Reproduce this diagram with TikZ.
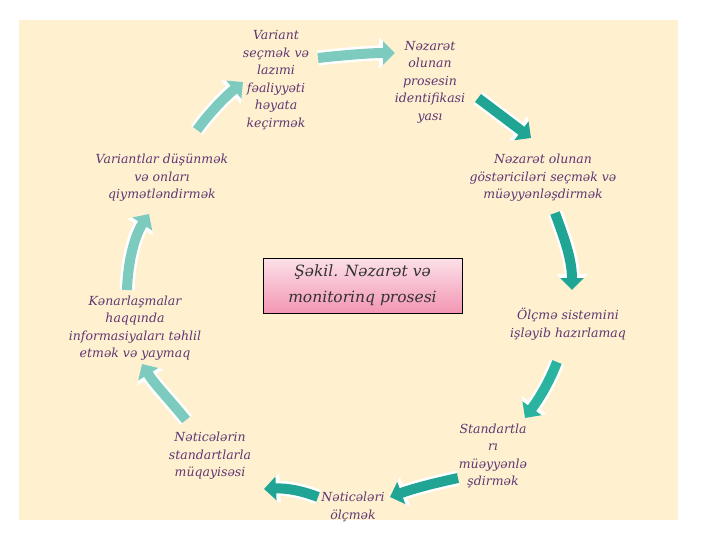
\documentclass[tikz,border=0pt]{standalone}
\usepackage{fontspec}
\setmainfont{DejaVu Serif}
\usetikzlibrary{arrows.meta}
\definecolor{bg}{RGB}{255,240,207}
\definecolor{txt}{RGB}{95,55,115}
\definecolor{tealD}{RGB}{32,165,148}
\definecolor{tealM}{RGB}{42,180,160}
\definecolor{tealL}{RGB}{125,203,190}
\definecolor{pinkT}{RGB}{252,225,233}
\definecolor{pinkB}{RGB}{243,150,180}
\tikzset{
  lbl/.style={text=txt, font=\fontsize{12.5}{17.5}\selectfont\itshape, align=center, inner sep=0pt},
  arrowout/.style={white, line width=15pt, -{Triangle[length=16pt,width=30pt]}},
  arrowin/.style={line width=10pt, -{Triangle[length=12pt,width=23pt]}},
}
\newcommand{\blockarrow}[2]{%
  \draw[arrowout] #2;
  \draw[arrowin,#1] #2;
}
\begin{document}
\begin{tikzpicture}[x=1pt,y=-1pt]
\useasboundingbox (0,0) rectangle (720,540);
\fill[bg] (19,20) rectangle (678,520);

% nodes
\node[lbl] (n1) at (276,80) {Variant\\seçmək və\\lazımi\\fəaliyyəti\\həyata\\keçirmək};
\node[lbl] (n2) at (430,82) {Nəzarət\\olunan\\prosesin\\identifikasi\\yası};
\node[lbl] (n3) at (543,178) {Nəzarət olunan\\göstəriciləri seçmək və\\müəyyənləşdirmək};
\node[lbl] (n4) at (568,324) {Ölçmə sistemini\\işləyib hazırlamaq};
\node[lbl] (n5) at (493,456) {Standartla\\rı\\müəyyənlə\\şdirmək};
\node[lbl] (n6) at (353,507) {Nəticələri\\ölçmək};
\node[lbl] (n7) at (210,456) {Nəticələrin\\standartlarla\\müqayisəsi};
\node[lbl] (n8) at (135,328) {Kənarlaşmalar\\haqqında\\informasiyaları təhlil\\etmək və yaymaq};
\node[lbl] (n9) at (162,178) {Variantlar düşünmək\\və onları\\qiymətləndirmək};

\node[draw=black, line width=0.8pt, top color=pinkT, bottom color=pinkB,
      minimum width=199pt, minimum height=55pt, inner sep=0pt,
      text=black!80, font=\fontsize{15.5}{26}\selectfont\itshape, align=center]
  (title) at (362.5,285.5) {Şəkil. Nəzarət və\\monitorinq prosesi};

% arrow end points
\coordinate (a1s) at (318,58);  \coordinate (a1e) at (395,53);
\coordinate (a2s) at (478,98);  \coordinate (a2e) at (531,138);
\coordinate (a3s) at (555,213); \coordinate (a3e) at (572,290);
\coordinate (a4s) at (557,362); \coordinate (a4e) at (525,418);
\coordinate (a5s) at (458,478); \coordinate (a5e) at (390,497);
\coordinate (a6s) at (318,497); \coordinate (a6e) at (264,489);
\coordinate (a7s) at (186,420); \coordinate (a7e) at (142,364);
\coordinate (a8s) at (127,290); \coordinate (a8e) at (149,214);
\coordinate (a9s) at (197,130); \coordinate (a9e) at (243,82);

\blockarrow{tealL}{(a1s) .. controls (345,55) and (370,53) .. (a1e)}
\blockarrow{tealD}{(a2s) -- (a2e)}
\blockarrow{tealD}{(a3s) .. controls (565,240) and (572,260) .. (a3e)}
\blockarrow{tealM}{(a4s) .. controls (548,385) and (538,400) .. (a4e)}
\blockarrow{tealD}{(a5s) .. controls (435,483) and (415,488) .. (a5e)}
\blockarrow{tealD}{(a6s) .. controls (300,490) and (285,488) .. (a6e)}
\blockarrow{tealL}{(a7s) .. controls (170,400) and (155,385) .. (a7e)}
\blockarrow{tealL}{(a8s) .. controls (128,260) and (135,235) .. (a8e)}
\blockarrow{tealL}{(a9s) .. controls (210,112) and (225,97) .. (a9e)}
\end{tikzpicture}
\end{document}
